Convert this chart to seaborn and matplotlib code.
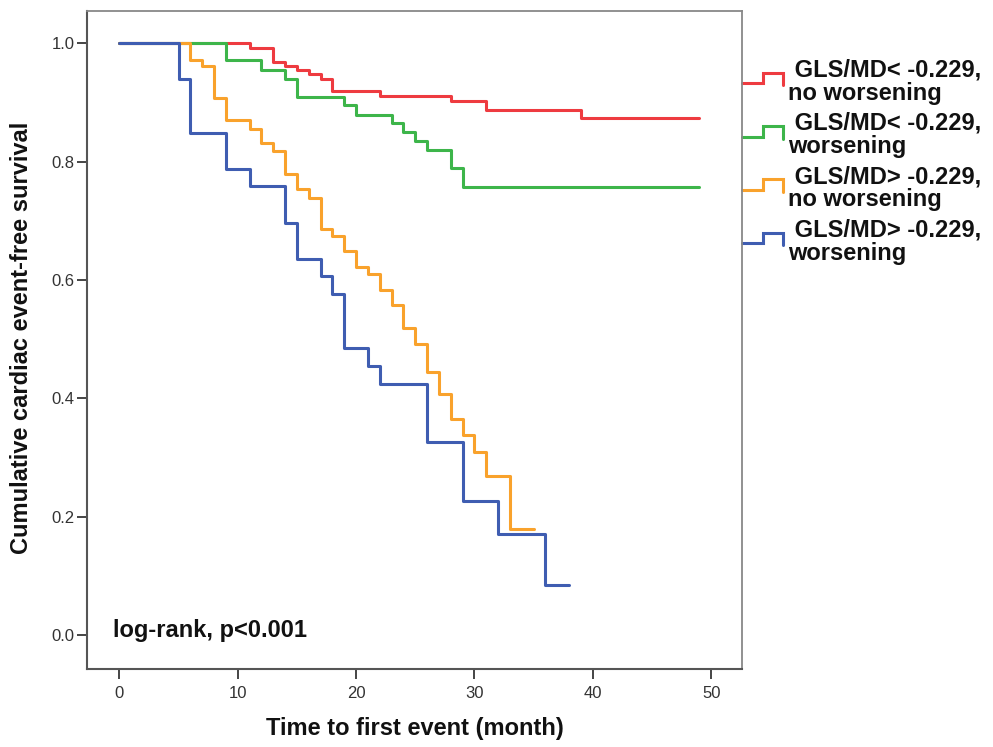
import pandas as pd
import seaborn as sns
import matplotlib.pyplot as plt

# Kaplan-Meier step values (time in months, survival)
groups = ["GLS/MD< -0.229,\nno worsening", "GLS/MD< -0.229,\nworsening",
          "GLS/MD> -0.229,\nno worsening", "GLS/MD> -0.229,\nworsening"]
colori = ["#EE3B40", "#3DB54A", "#F9A22C", "#3F5DB1"]

red_t = [0, 11, 13, 14, 15, 16, 17, 18, 22, 28, 31, 39, 49]
red_s = [1.0, 0.992, 0.969, 0.962, 0.955, 0.948, 0.940, 0.919, 0.911, 0.903, 0.887, 0.873, 0.873]

green_t = [0, 9, 12, 14, 15, 19, 20, 23, 24, 25, 26, 28, 29, 49]
green_s = [1.0, 0.971, 0.955, 0.939, 0.910, 0.895, 0.879, 0.865, 0.850, 0.835, 0.820, 0.790, 0.757, 0.757]

orange_t = [0, 6, 7, 8, 9, 11, 12, 13, 14, 15, 16, 17, 18, 19, 20, 21, 22, 23, 24, 25,
            26, 27, 28, 29, 30, 31, 33, 35]
orange_s = [1.0, 0.972, 0.961, 0.908, 0.870, 0.856, 0.831, 0.818, 0.779, 0.753, 0.739, 0.686,
            0.674, 0.649, 0.622, 0.610, 0.583, 0.557, 0.519, 0.492, 0.444, 0.408, 0.365, 0.338,
            0.309, 0.269, 0.179, 0.179]

blue_t = [0, 5, 6, 9, 11, 14, 15, 17, 18, 19, 21, 22, 26, 29, 32, 36, 38]
blue_s = [1.0, 0.939, 0.848, 0.788, 0.758, 0.697, 0.636, 0.606, 0.576, 0.485, 0.455, 0.424,
          0.326, 0.227, 0.171, 0.085, 0.085]

x_ticks = [0, 10, 20, 30, 40, 50]
y_ticks = [0.0, 0.2, 0.4, 0.6, 0.8, 1.0]

# tabella lunga per seaborn
frames = []
for g, t, s in zip(groups, [red_t, green_t, orange_t, blue_t], [red_s, green_s, orange_s, blue_s]):
    frames.append(pd.DataFrame({"time": t, "surv": s, "group": g}))
df = pd.concat(frames, ignore_index=True)

sns.set_style("ticks")
plt.rcParams['font.family'] = ['Liberation Sans', 'DejaVu Sans']
plt.rcParams['text.color'] = '#111111'
plt.rcParams['axes.labelcolor'] = '#111111'

fig = plt.figure(figsize=(9.93, 7.47), dpi=100)
ax = fig.add_axes([87 / 993, 1 - 669 / 747, 655 / 993, 658 / 747])

sns.lineplot(data=df, x="time", y="surv", hue="group", hue_order=groups,
             palette=colori, estimator=None, sort=True, drawstyle="steps-post",
             linewidth=2.2, legend=False, ax=ax)

ax.set_xlim(-2.73, 52.6)
ax.set_ylim(-0.0575, 1.0546)
ax.set_xticks(x_ticks)
ax.set_xticklabels([str(v) for v in x_ticks])
ax.set_yticks(y_ticks)
ax.set_yticklabels([f"{v:.1f}" for v in y_ticks])
ax.tick_params(axis="both", direction="out", length=7, width=1.4, color="#444444",
               labelsize=12, labelcolor="#333333")
ax.tick_params(axis="x", pad=5)
ax.tick_params(axis="y", pad=2)

for side in ["left", "bottom"]:
    ax.spines[side].set_color("#555555")
    ax.spines[side].set_linewidth(1.5)
for side in ["top", "right"]:
    ax.spines[side].set_color("#888888")
    ax.spines[side].set_linewidth(1.3)

ax.set_xlabel("Time to first event (month)", fontsize=17, fontweight="bold")
ax.set_ylabel("Cumulative cardiac event-free survival", fontsize=17, fontweight="bold")
ax.xaxis.set_label_coords(0.5, -0.073)
ax.yaxis.set_label_coords(-0.082, 0.503)

ax.text(0.040, 0.058, "log-rank, p<0.001", transform=ax.transAxes,
        fontsize=17, fontweight="bold", va="center", ha="left")

# legenda a gradino fuori dal riquadro
def fx(px):
    return (px - 87) / 655

def fy(py):
    return (669 - py) / 658

for i, (g, c) in enumerate(zip(groups, colori)):
    yb = 83.3 + i * 53.3
    ax.plot([fx(742), fx(763), fx(763), fx(783), fx(783)],
            [fy(yb), fy(yb), fy(yb - 10.6), fy(yb - 10.6), fy(yb + 2)],
            color=c, linewidth=2.2, transform=ax.transAxes, clip_on=False,
            solid_joinstyle="miter")
    riga1, riga2 = g.split("\n")
    ax.text(fx(788), fy(yb - 13.3), " " + riga1, transform=ax.transAxes,
            fontsize=17, fontweight="bold", va="center", ha="left")
    ax.text(fx(788), fy(yb + 10), riga2, transform=ax.transAxes,
            fontsize=17, fontweight="bold", va="center", ha="left")

fig.savefig("out.png", dpi=100)
